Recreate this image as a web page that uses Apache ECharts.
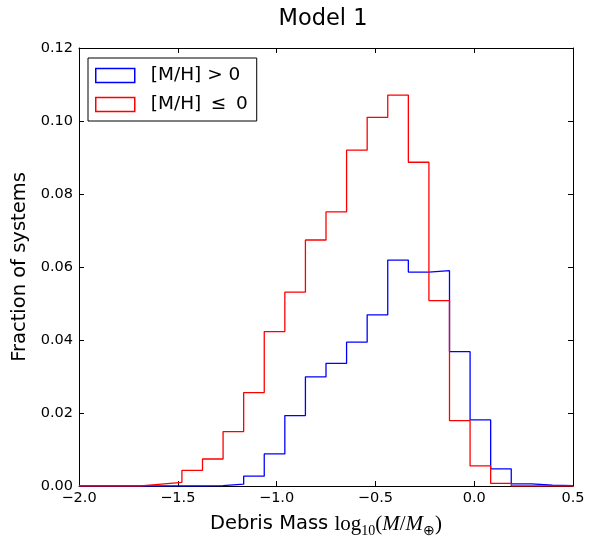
<!DOCTYPE html>
<html>
<head>
<meta charset="utf-8">
<script src="https://cdn.jsdelivr.net/npm/echarts@6/dist/echarts.min.js"></script>
<style>
html,body{margin:0;padding:0;background:#fff;}
#chart{width:596px;height:536px;}
</style>
</head>
<body>
<div id="chart"></div>
<script>
// Histogram definition (24 bins spanning the x range)
const binLow = -2.0;
const binHigh = 0.5;
const binCount = 24;

// Fraction of systems per bin
const metalRich = [0, 0, 0, 0, 0, 0, 0.0001, 0.0005, 0.0027, 0.0088, 0.0193, 0.0299,
                   0.0336, 0.0394, 0.0469, 0.0619, 0.0586, 0.0590, 0.0368, 0.0181, 0.0047, 0.0006, 0.0002, 0.0001];
const metalPoor = [0, 0, 0, 0.0005, 0.0010, 0.0043, 0.0074, 0.0149, 0.0256, 0.0423, 0.0531, 0.0674,
                   0.0751, 0.0920, 0.1010, 0.1071, 0.0887, 0.0508, 0.0179, 0.0055, 0.0007, 0, 0, 0];

const seriesNames = ['[M/H] > 0', '[M/H] \u2009\u2264\u2009 0'];
const xTicks = [-2.0, -1.5, -1.0, -0.5, 0.0, 0.5];
const yTicks = [0.00, 0.02, 0.04, 0.06, 0.08, 0.10, 0.12];

const binWidth = (binHigh - binLow) / binCount;
const edges = [];
for (let k = 0; k <= binCount; k++) edges.push(binLow + k * binWidth);

function stepData(vals) {
  const d = [[edges[0], 0]];
  for (let k = 0; k < vals.length; k++) d.push([edges[k], vals[k]]);
  d.push([edges[vals.length], vals[vals.length - 1]]);
  d.push([edges[vals.length], 0]);
  return d;
}

const FONT = 'DejaVu Sans';
const fmtX = v => (v < 0 ? '\u2212' : '') + Math.abs(v).toFixed(1);

const chart = echarts.init(document.getElementById('chart'), null, {renderer: 'canvas'});
const tickStyle = {show: true, inside: true, length: 5, lineStyle: {color: '#000', width: 1}};
const lineAxis = {show: true, onZero: false, lineStyle: {color: '#000', width: 1}};

chart.setOption({
  animation: false,
  backgroundColor: '#fff',
  title: {
    text: 'Model 1',
    left: 318, top: 3, textAlign: 'center',
    textStyle: {fontFamily: FONT, fontSize: 22.5, fontWeight: 'normal', color: '#000'}
  },
  grid: {left: 79, right: 23, top: 48, bottom: 50, containLabel: false, outerBoundsMode: 'none'},
  legend: {
    orient: 'vertical', left: 88, top: 58,
    padding: [8, 9, 7, 7], itemGap: 10, itemWidth: 39, itemHeight: 14,
    borderColor: '#000', borderWidth: 1, backgroundColor: '#fff', borderRadius: 0,
    selectedMode: false,
    textStyle: {fontFamily: FONT, fontSize: 18.5, color: '#000', lineHeight: 14, padding: [0, 0, 0, 11]},
    data: [
      {name: seriesNames[0], icon: 'rect', itemStyle: {color: '#fff', borderColor: '#0000ff', borderWidth: 1.5}},
      {name: seriesNames[1], icon: 'rect', itemStyle: {color: '#fff', borderColor: '#ff0000', borderWidth: 1.5}}
    ]
  },
  xAxis: [{
    type: 'value', min: xTicks[0], max: xTicks[xTicks.length - 1], interval: 0.5,
    axisLine: lineAxis, axisTick: tickStyle, splitLine: {show: false},
    axisLabel: {formatter: fmtX, fontFamily: FONT, fontSize: 14.5, color: '#000', margin: 5},
    name: '{a|Debris Mass }{r|log}{s|10}{r|(}{i|M}{r|/}{i|M}{s|\u2295}{r|)}',
    nameLocation: 'middle', nameGap: 28,
    nameTextStyle: {
      rich: {
        a: {fontFamily: FONT, fontSize: 19.5, color: '#000', lineHeight: 24, verticalAlign: 'top'},
        r: {fontFamily: 'Liberation Serif', fontSize: 21, color: '#000', lineHeight: 24, verticalAlign: 'top'},
        i: {fontFamily: 'Liberation Serif', fontStyle: 'italic', fontSize: 21, color: '#000', lineHeight: 24, verticalAlign: 'top'},
        s: {fontFamily: 'Liberation Serif', fontSize: 14, color: '#000', lineHeight: 14, padding: [13, 0, 0, 0], verticalAlign: 'bottom'}
      }
    }
  }, {
    type: 'value', position: 'top', min: xTicks[0], max: xTicks[xTicks.length - 1], interval: 0.5,
    axisLine: lineAxis, axisTick: tickStyle, axisLabel: {show: false}, splitLine: {show: false}
  }],
  yAxis: [{
    type: 'value', min: yTicks[0], max: yTicks[yTicks.length - 1], interval: 0.02,
    axisLine: lineAxis, axisTick: tickStyle, splitLine: {show: false},
    axisLabel: {formatter: v => v.toFixed(2), fontFamily: FONT, fontSize: 14.5, color: '#000', margin: 6},
    name: 'Fraction of systems', nameLocation: 'middle', nameGap: 41, nameRotate: 90,
    nameTextStyle: {fontFamily: FONT, fontSize: 19.5, color: '#000'}
  }, {
    type: 'value', position: 'right', min: yTicks[0], max: yTicks[yTicks.length - 1], interval: 0.02,
    axisLine: lineAxis, axisTick: tickStyle, axisLabel: {show: false}, splitLine: {show: false}
  }],
  series: [
    {name: seriesNames[0], type: 'line', step: 'end', symbol: 'none', data: stepData(metalRich),
     lineStyle: {color: '#0000ff', width: 1.3}, itemStyle: {color: '#0000ff'}, z: 3},
    {name: seriesNames[1], type: 'line', step: 'end', symbol: 'none', data: stepData(metalPoor),
     lineStyle: {color: '#ff0000', width: 1.3}, itemStyle: {color: '#ff0000'}, z: 4}
  ]
});
</script>
</body>
</html>
